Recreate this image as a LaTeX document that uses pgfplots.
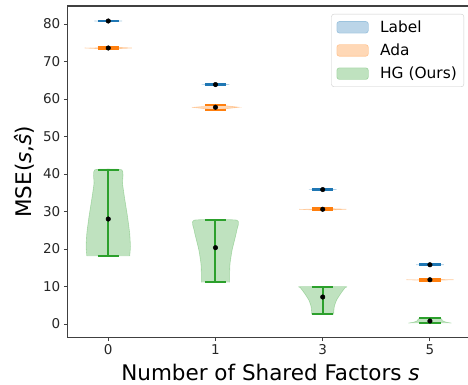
\documentclass[border=0pt]{standalone}
\usepackage{pgfplots}
\pgfplotsset{compat=1.18}
\usepackage{fontspec}
\setmainfont{DejaVu Sans}
\definecolor{tabblue}{HTML}{1F77B4}
\definecolor{taborange}{HTML}{FF7F0E}
\definecolor{tabgreen}{HTML}{2CA02C}
\begin{document}
\begin{tikzpicture}
\begin{axis}[
  scale only axis, width=400.7pt, height=331.7pt,
  xmin=-0.382, xmax=3.355, ymin=-3.65, ymax=84.8,
  axis x line*=box, axis y line*=left,
  xtick pos=bottom, ytick pos=left,
  axis line style={black!75, line width=1.1pt},
  tick align=outside, major tick length=3.5pt,
  tick style={black!75, line width=0.9pt},
  xtick={0,1,2,3}, xticklabels={0,1,3,5},
  ytick={0,10,20,30,40,50,60,70,80},
  /pgf/number format/assume math mode=true,
  ticklabel style={font=\fontsize{13.5}{16}\selectfont, text=black!85},
  xlabel={Number of Shared Factors \textit{s}},
  ylabel={MSE(\textit{s},\textit{ŝ})},
  label style={font=\fontsize{21.5}{24}\selectfont},
  xlabel style={at={(axis description cs:0.507,-0.1296)}, anchor=base},
  ylabel style={at={(axis description cs:-0.0881,0.5)}, anchor=base, rotate=0},
  legend style={at={(axis description cs:0.99,0.976)}, anchor=north east,
    draw=black!20, rounded corners=2.5pt, font=\fontsize{15.4}{18}\selectfont,
    row sep=6pt, inner xsep=5pt, inner ysep=4.5pt},
  legend cell align=left,
  legend image code/.code={\fill[#1] (0pt,-5.8pt) rectangle (31.5pt,5.8pt); \path (41pt,0pt);},
  body/.style={fill=#1, fill opacity=0.3, draw=#1, draw opacity=0.3, line width=0.6pt},
]
% violin bodies (first three carry the legend)
\addplot[body=tabblue] coordinates {(-0.13,80.8) (0,80.68) (0.13,80.8) (0,80.92)};
\addlegendentry{Label}
\addplot[body=taborange] coordinates {(-0.22,73.6) (0,73.3) (0.22,73.6) (0,73.9)};
\addlegendentry{Ada}
\addplot[body=tabgreen, smooth, tension=0.3] coordinates {(-0.2,18.13) (-0.207,20.6) (-0.2,24.2) (-0.18,28.6) (-0.155,33.1) (-0.133,37.5) (-0.127,41.1) (0.127,41.1) (0.133,37.5) (0.155,33.1) (0.18,28.6) (0.2,24.2) (0.207,20.6) (0.2,18.13)};
\addlegendentry{HG (Ours)}
\addplot[body=tabblue, forget plot] coordinates {(0.87,63.85) (1,63.73) (1.13,63.85) (1,63.97)};
\addplot[body=tabblue, forget plot] coordinates {(1.87,35.85) (2,35.73) (2.13,35.85) (2,35.97)};
\addplot[body=tabblue, forget plot] coordinates {(2.87,15.8) (3,15.68) (3.13,15.8) (3,15.92)};
\addplot[body=taborange, forget plot] coordinates {(0.78,57.8) (1,57.1) (1.22,57.8) (1,58.5)};
\addplot[body=taborange, forget plot] coordinates {(1.78,30.6) (2,30.3) (2.22,30.6) (2,30.85)};
\addplot[body=taborange, forget plot] coordinates {(2.78,11.8) (3,11.6) (3.22,11.8) (3,11.95)};
\addplot[body=tabgreen, smooth, tension=0.3, forget plot] coordinates {(0.868,11.1) (0.868,13.5) (0.864,16.2) (0.845,19.7) (0.822,22.4) (0.8,25.1) (0.8,27.7) (1.2,27.7) (1.2,25.1) (1.178,22.4) (1.155,19.7) (1.136,16.2) (1.132,13.5) (1.132,11.1)};
\addplot[body=tabgreen, smooth, tension=0.3, forget plot] coordinates {(1.898,2.6) (1.892,4.6) (1.87,6.4) (1.83,8.2) (1.791,9.7) (1.79,9.95) (2.21,9.95) (2.209,9.7) (2.17,8.2) (2.13,6.4) (2.108,4.6) (2.102,2.6)};
\addplot[body=tabgreen, smooth, tension=0.3, forget plot] coordinates {(2.8,0.25) (2.85,0.5) (2.885,0.9) (2.9,1.5) (3.1,1.5) (3.115,0.9) (3.15,0.5) (3.2,0.25)};
% extrema and bars
\addplot[tabblue, line width=2pt, unbounded coords=jump, forget plot] coordinates {
 (-0.1,80.68) (0.1,80.68) (0.1,nan) (-0.1,80.92) (0.1,80.92) (0.1,nan) (0,80.68) (0,80.92) (0,nan)
 (0.9,63.73) (1.1,63.73) (1.1,nan) (0.9,63.97) (1.1,63.97) (1.1,nan) (1,63.73) (1,63.97) (1,nan)
 (1.9,35.73) (2.1,35.73) (2.1,nan) (1.9,35.97) (2.1,35.97) (2.1,nan) (2,35.73) (2,35.97) (2,nan)
 (2.9,15.68) (3.1,15.68) (3.1,nan) (2.9,15.92) (3.1,15.92) (3.1,nan) (3,15.68) (3,15.92)};
\addplot[taborange, line width=2pt, unbounded coords=jump, forget plot] coordinates {
 (-0.1,73.3) (0.1,73.3) (0.1,nan) (-0.1,73.9) (0.1,73.9) (0.1,nan) (0,73.3) (0,73.9) (0,nan)
 (0.9,57.1) (1.1,57.1) (1.1,nan) (0.9,58.5) (1.1,58.5) (1.1,nan) (1,57.1) (1,58.5) (1,nan)
 (1.9,30.3) (2.1,30.3) (2.1,nan) (1.9,30.85) (2.1,30.85) (2.1,nan) (2,30.3) (2,30.85) (2,nan)
 (2.9,11.6) (3.1,11.6) (3.1,nan) (2.9,11.95) (3.1,11.95) (3.1,nan) (3,11.6) (3,11.95)};
\addplot[tabgreen, line width=2pt, unbounded coords=jump, forget plot] coordinates {
 (-0.1,18.13) (0.1,18.13) (0.1,nan) (-0.1,41.1) (0.1,41.1) (0.1,nan) (0,18.13) (0,41.1) (0,nan)
 (0.9,11.1) (1.1,11.1) (1.1,nan) (0.9,27.7) (1.1,27.7) (1.1,nan) (1,11.1) (1,27.7) (1,nan)
 (1.9,2.6) (2.1,2.6) (2.1,nan) (1.9,9.95) (2.1,9.95) (2.1,nan) (2,2.6) (2,9.95) (2,nan)
 (2.9,0.25) (3.1,0.25) (3.1,nan) (2.9,1.5) (3.1,1.5) (3.1,nan) (3,0.25) (3,1.5)};
% medians
\addplot[only marks, mark=*, mark size=2.3pt, black, forget plot] coordinates {
 (0,80.8) (1,63.85) (2,35.85) (3,15.8)
 (0,73.6) (1,57.8) (2,30.6) (3,11.8)
 (0,28.0) (1,20.35) (2,7.2) (3,0.8)};
\end{axis}
\pgfresetboundingbox
\useasboundingbox ([xshift=-67.3pt,yshift=-47.3pt]current axis.south west) rectangle ([xshift=400.7pt,yshift=337.7pt]current axis.south west);
\end{tikzpicture}
\end{document}
